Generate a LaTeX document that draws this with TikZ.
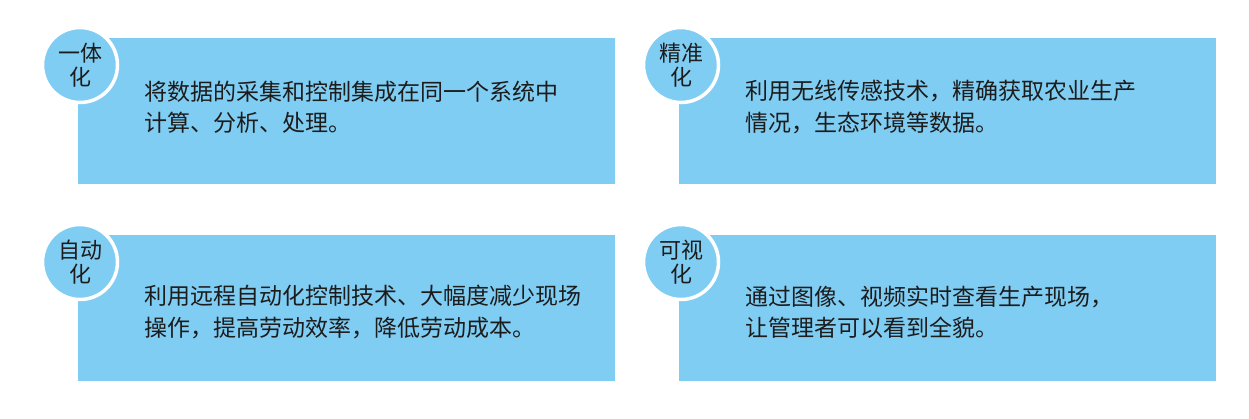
\documentclass[tikz,border=0pt]{standalone}
\usepackage{fontspec}
\setmainfont{Noto Sans CJK SC}
\usepackage{tikz}
\definecolor{skyfill}{HTML}{80CDF3}
\definecolor{inkdark}{HTML}{1C1C1C}
\tikzset{panel/.style={fill=skyfill,draw=none,anchor=north west,minimum width=537pt,minimum height=146pt},
badge/.style={circle,fill=skyfill,draw=white,line width=3.5pt,minimum size=75pt,inner sep=0pt,align=center,text=inkdark,font=\fontsize{22}{24}\selectfont},
desc/.style={anchor=west,align=left,inner sep=0pt,text=inkdark,font=\fontsize{23}{31.5}\selectfont}}

\begin{document}
\begin{tikzpicture}[x=1pt,y=-1pt]
\useasboundingbox (0,0) rectangle (1249,418);
\foreach \n/\ox/\oy/\ty/\title/\body in {1/78/38/69/{一体\\化}/{将数据的采集和控制集成在同一个系统中\\计算、分析、处理。},
2/679/38/69/{精准\\化}/{利用无线传感技术，精确获取农业生产\\情况，生态环境等数据。},
3/78/235/77/{自动\\化}/{利用远程自动化控制技术、大幅度减少现场\\操作，提高劳动效率，降低劳动成本。},
4/679/235/77/{可视\\化}/{通过图像、视频实时查看生产现场，\\让管理者可以看到全貌。}} {
\begin{scope}[shift={(\ox,\oy)}]
\node[panel] (panel-\n) at (0,0) {};
\node[badge] (badge-\n) at (2,27) {\title};
\node[desc] (desc-\n) at (66,\ty) {\body};
\end{scope}}
\end{tikzpicture}
\end{document}
